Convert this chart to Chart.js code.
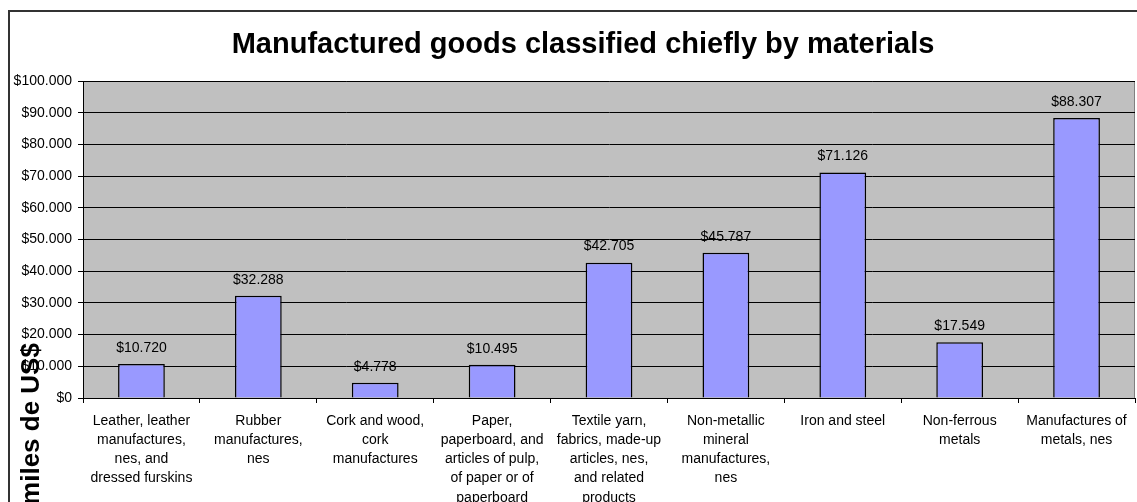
<!DOCTYPE html>
<html>
<head>
<meta charset="utf-8">
<script src="https://cdn.jsdelivr.net/npm/chart.js@4/dist/chart.umd.min.js"></script>
<style>
  html, body { margin: 0; padding: 0; background: #fff; }
  #wrap { width: 1137px; height: 502px; }
</style>
</head>
<body>
<div id="wrap"><canvas id="goodsChart"></canvas></div>
<script>
// data
const categories = [
    ['Leather, leather', 'manufactures,', 'nes, and', 'dressed furskins'],
    ['Rubber', 'manufactures,', 'nes'],
    ['Cork and wood,', 'cork', 'manufactures'],
    ['Paper,', 'paperboard, and', 'articles of pulp,', 'of paper or of', 'paperboard'],
    ['Textile yarn,', 'fabrics, made-up', 'articles, nes,', 'and related', 'products'],
    ['Non-metallic', 'mineral', 'manufactures,', 'nes'],
    ['Iron and steel'],
    ['Non-ferrous', 'metals'],
    ['Manufactures of', 'metals, nes']
];
const values = [10720, 32288, 4778, 10495, 42705, 45787, 71126, 17549, 88307];
const yTicks = [0, 10000, 20000, 30000, 40000, 50000, 60000, 70000, 80000, 90000, 100000];
const chartTitle = 'Manufactured goods classified chiefly by materials';
const yTitle = 'miles de US$';

const FONT = "'Liberation Sans', Arial, sans-serif";

function money(v) {
    // dot as thousands separator, like the original
    const s = Math.round(v).toString().replace(/\B(?=(\d{3})+(?!\d))/g, '.');
    return '$' + s;
}

const frame = {
    id: 'frame',
    beforeDraw(chart) {
        const c = chart.ctx;
        const a = chart.chartArea;
        c.save();
        c.fillStyle = '#c0c0c0';
        c.fillRect(a.left, a.top, a.right - a.left, a.bottom - a.top);
        c.strokeStyle = '#808080';
        c.lineWidth = 1;
        c.strokeRect(a.left + 0.5, a.top + 0.5, a.right - a.left - 1, a.bottom - a.top);
        // outer chart border (the original frame runs past the right and bottom edges)
        c.strokeStyle = '#333';
        c.lineWidth = 2;
        c.strokeRect(9, 11, chart.width + 20, chart.height + 20);
        // title, centred on the original (wider) frame
        c.fillStyle = '#000';
        c.font = 'bold 29px ' + FONT;
        c.textAlign = 'center';
        c.textBaseline = 'middle';
        c.fillText(chartTitle, 583, 45);
        c.restore();
    },
    afterDraw(chart) {
        const c = chart.ctx;
        c.save();
        // value labels above the bars
        const meta = chart.getDatasetMeta(0);
        c.font = '14px ' + FONT;
        c.fillStyle = '#000';
        c.textAlign = 'center';
        c.textBaseline = 'middle';
        meta.data.forEach((bar, i) => {
            c.fillText(money(values[i]), bar.x, bar.y - 16);
        });
        // rotated axis title, overlapping the tick labels as in the original
        c.translate(32, 424);
        c.rotate(-Math.PI / 2);
        c.font = 'bold 26px ' + FONT;
        c.fillText(yTitle, 0, 0);
        c.restore();
    }
};

const ctx = document.getElementById('goodsChart').getContext('2d');
const goodsChart = new Chart(ctx, {
    type: 'bar',
    data: {
        labels: categories,
        datasets: [{
            data: values,
            backgroundColor: '#9999ff',
            borderColor: '#000',
            borderWidth: 1.5,
            categoryPercentage: 1,
            barPercentage: 0.4
        }]
    },
    options: {
        responsive: true,
        maintainAspectRatio: false,
        animation: false,
        layout: { padding: { left: 0, right: 2, top: 81, bottom: 0 } },
        plugins: {
            legend: { display: false },
            tooltip: { enabled: false },
            title: { display: false }
        },
        scales: {
            x: {
                grid: {
                    offset: true,
                    drawOnChartArea: false,
                    color: '#000',
                    tickLength: 5
                },
                border: { color: '#000', width: 1 },
                ticks: {
                    color: '#000',
                    font: { family: FONT, size: 14, lineHeight: 1.36 },
                    maxRotation: 0,
                    autoSkip: false,
                    padding: 9
                },
                afterFit(scale) { scale.height = 104; }
            },
            y: {
                min: 0,
                max: 100000,
                afterBuildTicks(scale) {
                    scale.ticks = yTicks.map(v => ({ value: v }));
                },
                grid: { color: '#000', tickLength: 5 },
                border: { color: '#000', width: 1 },
                ticks: {
                    color: '#000',
                    font: { family: FONT, size: 14 },
                    padding: 6,
                    callback: function(value) {
                        return money(value);
                    }
                },
                afterFit(scale) { scale.width = 83; }
            }
        }
    },
    plugins: [frame]
});
</script>
</body>
</html>
